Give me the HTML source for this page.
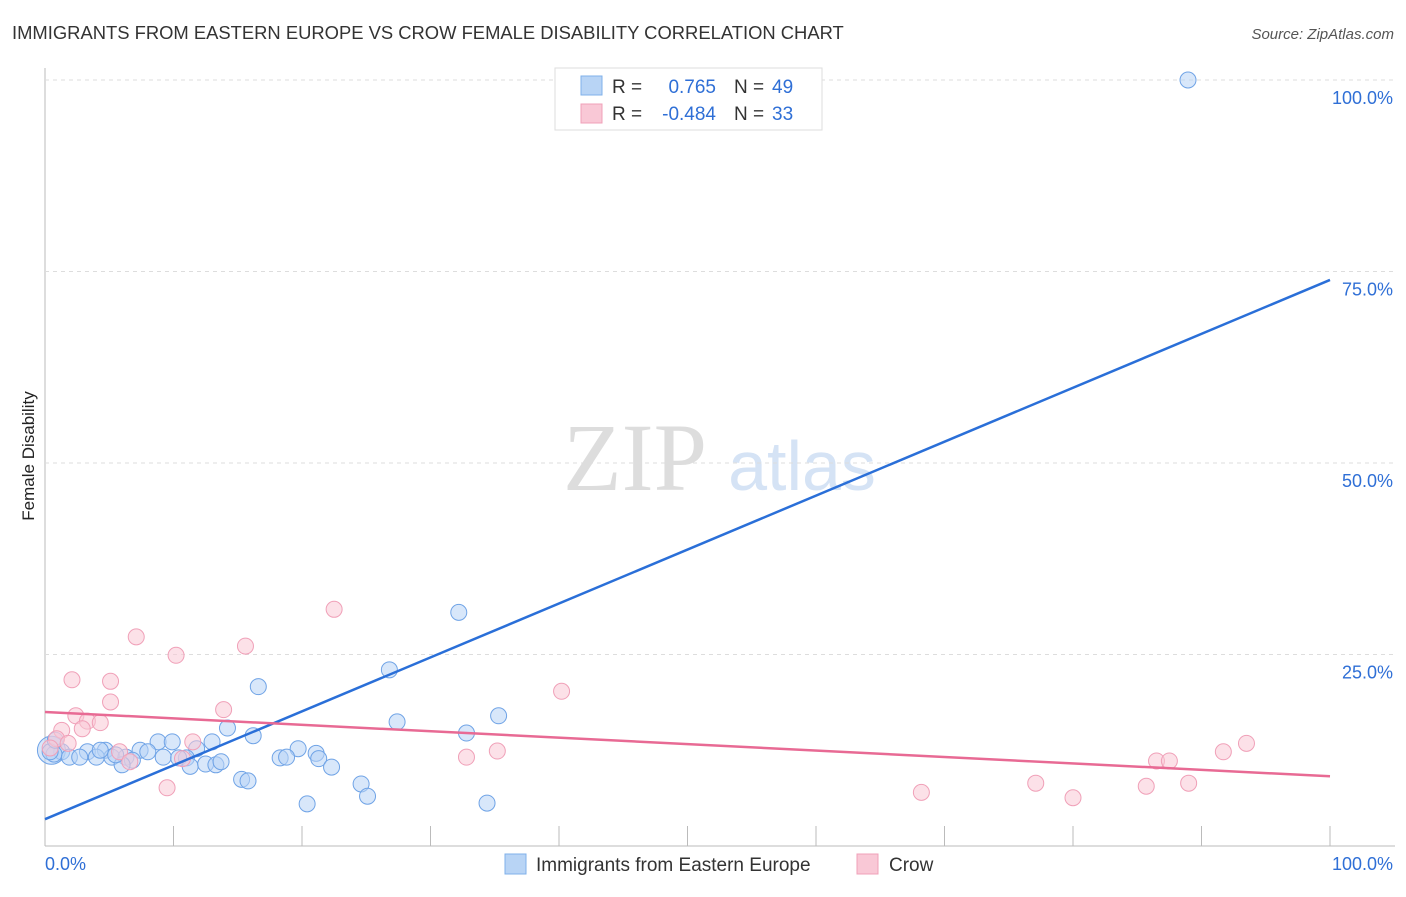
<!DOCTYPE html>
<html><head><meta charset="utf-8"><style>
body{margin:0;background:#fff;font-family:"Liberation Sans",sans-serif;}
</style></head><body>
<svg width="1406" height="892" id="c" font-family="Liberation Sans, sans-serif">
<text x="12" y="39" font-size="18.4" fill="#333">IMMIGRANTS FROM EASTERN EUROPE VS CROW FEMALE DISABILITY CORRELATION CHART</text>
<text x="1394" y="39" font-size="15" fill="#555" text-anchor="end" font-style="italic">Source: ZipAtlas.com</text>
<text x="34" y="456" font-size="17" fill="#222" text-anchor="middle" transform="rotate(-90 34 456)">Female Disability</text>
<g><text x="635" y="490" font-size="96" fill="#ddd" style="font-family:'Liberation Serif',serif" text-anchor="middle">ZIP</text><text x="802" y="490" font-size="70" fill="#d5e3f5" text-anchor="middle">atlas</text></g>
<g id="grid"></g><g id="marks"></g>
<g>
<rect x="555" y="68" width="267" height="62" fill="#fff" stroke="#ddd"/>
<rect x="581" y="76" width="21" height="19" fill="#b8d4f5" stroke="#7fb0ea"/>
<rect x="581" y="104" width="21" height="19" fill="#f9c8d6" stroke="#f0a0b8"/>
<text x="612" y="93" font-size="19" fill="#333">R =</text><text x="716" y="93" font-size="19" fill="#2f6fd6" text-anchor="end">0.765</text>
<text x="734" y="93" font-size="19" fill="#333">N =</text><text x="772" y="93" font-size="19" fill="#2f6fd6">49</text>
<text x="612" y="120" font-size="19" fill="#333">R =</text><text x="716" y="120" font-size="19" fill="#2f6fd6" text-anchor="end">-0.484</text>
<text x="734" y="120" font-size="19" fill="#333">N =</text><text x="772" y="120" font-size="19" fill="#2f6fd6">33</text>
</g>
<g>
<rect x="505" y="854" width="21" height="20" fill="#b8d4f5" stroke="#7fb0ea"/>
<text x="536" y="871" font-size="19" fill="#333">Immigrants from Eastern Europe</text>
<rect x="857" y="854" width="21" height="20" fill="#f9c8d6" stroke="#f0a0b8"/>
<text x="889" y="871" font-size="19" fill="#333">Crow</text>
</g>
</svg>
<script>
const blueX=[88.95,32.2,26.8,16.6,35.3,27.4,32.8,14.2,16.2,13.0,8.8,9.9,11.8,11.0,7.4,8.0,4.7,3.3,1.3,0.7,0.4,1.9,2.7,4.0,5.2,6.3,6.8,6.0,9.2,10.4,11.3,12.5,13.3,13.7,19.7,21.1,18.3,18.8,21.3,22.3,15.3,15.8,24.6,25.1,20.4,34.4,0.8,4.3,5.5];
const blueY=[100.0,30.5,23.0,20.8,17.0,16.2,14.75,15.4,14.4,13.6,13.6,13.6,12.7,11.5,12.5,12.3,12.5,12.3,12.3,12.0,12.3,11.6,11.6,11.6,11.6,11.6,11.2,10.6,11.6,11.5,10.4,10.7,10.6,11.0,12.7,12.1,11.5,11.6,11.4,10.3,8.7,8.5,8.1,6.5,5.5,5.6,13.8,12.5,11.9];
const pinkX=[22.5,7.1,15.6,10.2,2.1,5.1,40.2,5.1,13.9,2.4,3.3,4.3,2.9,1.3,0.9,1.8,0.4,5.8,6.6,10.7,11.5,9.5,32.8,35.2,68.2,77.1,80.0,85.7,86.5,87.5,89.0,91.7,93.5];
const pinkY=[30.9,27.3,26.1,24.9,21.7,21.5,20.2,18.8,17.8,17.0,16.3,16.1,15.3,15.1,14.0,13.4,12.8,12.3,11.0,11.4,13.6,7.6,11.6,12.4,7.0,8.2,6.3,7.8,11.1,11.1,8.2,12.3,13.4];
const blueTrend=[3.5,73.9];
const pinkTrend=[17.5,9.1];
const yTicks=[25,50,75,100];
const yTickLabels=["25.0%","50.0%","75.0%","100.0%"];
const xTicks=[0,10,20,30,40,50,60,70,80,90,100];

const NS="http://www.w3.org/2000/svg";
const sx=v=>45+v*12.85, sy=v=>846-v*7.66;
function mk(t,a,p){const e=document.createElementNS(NS,t);for(const k in a)e.setAttribute(k,a[k]);p.appendChild(e);return e;}
const g=document.getElementById('grid'), m=document.getElementById('marks');
const ax=mk('line',{x1:45,y1:68,x2:45,y2:846,stroke:'#bbb'},g);


const bx=mk('line',{x1:45,y1:846,x2:1395,y2:846,stroke:'#bbb'},g);


yTicks.forEach((v,i)=>{
 const l=mk('line',{x1:45,x2:1395,y1:sy(v),y2:sy(v),stroke:'#ddd','stroke-dasharray':'4,4'},g);
 
 
 const t=mk('text',{x:1393,y:sy(v)+24,'font-size':18,fill:'#2f6fd6','text-anchor':'end'},g);t.textContent=yTickLabels[i];
 
 
});
xTicks.forEach(v=>{
 const l=mk('line',{x1:sx(v),x2:sx(v),y1:826,y2:846,stroke:'#bbb'},g);
 
 
});
const x0=mk('text',{x:45,y:870,'font-size':18,fill:'#2f6fd6'},g);x0.textContent='0.0%';


const x1=mk('text',{x:1393,y:870,'font-size':18,fill:'#2f6fd6','text-anchor':'end'},g);x1.textContent='100.0%';


function pts(X,Y,fill,stroke,name){X.forEach((x,i)=>{
 const c=mk('circle',{cx:sx(x),cy:sy(Y[i]),r:8,fill:fill,'fill-opacity':0.55,stroke:stroke,'stroke-width':1},m);
 
 
});}
const big=mk('circle',{cx:sx(0.5),cy:sy(12.5),r:14,fill:'#b8d4f5','fill-opacity':0.55,stroke:'#6fa3e6'},m);


pts(blueX,blueY,'#b8d4f5','#6fa3e6','blue-point');
pts(pinkX,pinkY,'#f9c8d6','#f0a0b8','pink-point');
const bl=mk('line',{x1:sx(0),y1:sy(blueTrend[0]),x2:sx(100),y2:sy(blueTrend[1]),stroke:'#2a6fd8','stroke-width':2.5},m);


const pl=mk('line',{x1:sx(0),y1:sy(pinkTrend[0]),x2:sx(100),y2:sy(pinkTrend[1]),stroke:'#e86a94','stroke-width':2.5},m);


</script>
</body></html>
